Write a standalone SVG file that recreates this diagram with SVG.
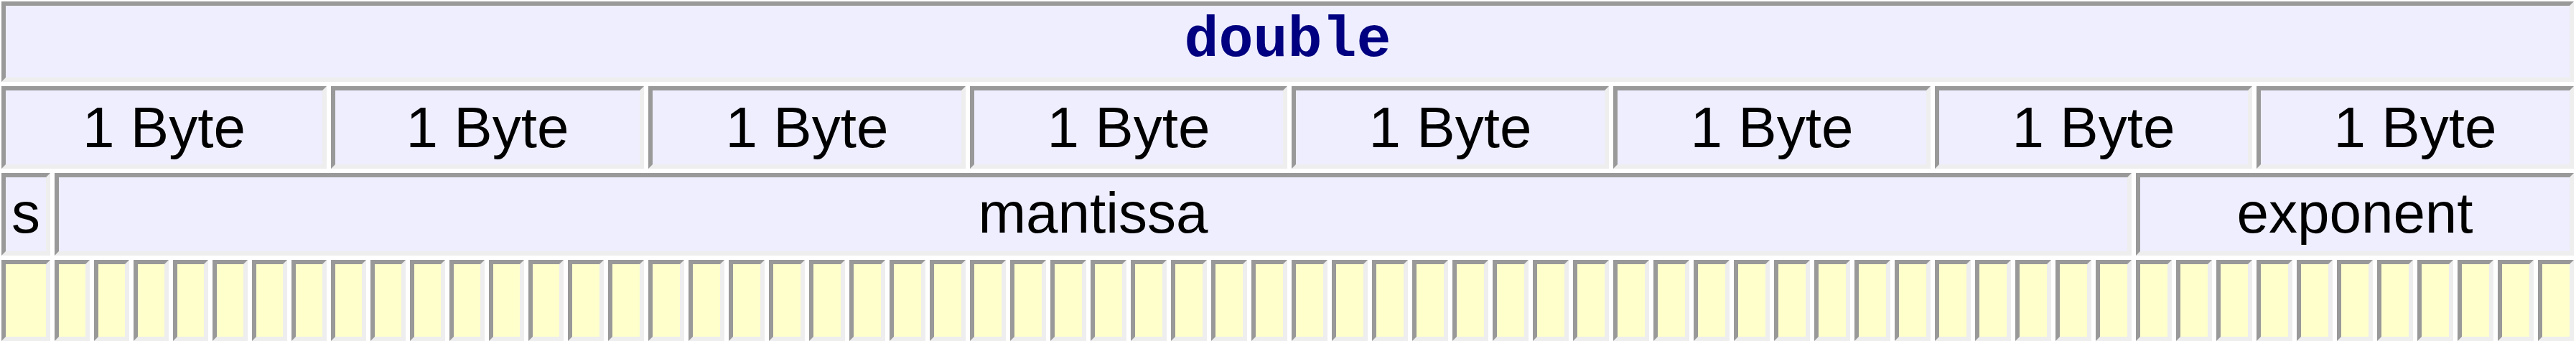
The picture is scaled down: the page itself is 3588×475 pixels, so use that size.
<svg xmlns="http://www.w3.org/2000/svg" xmlns:xlink="http://www.w3.org/1999/xlink" width="3588" height="475" viewBox="0 0 3588 475">
<style>
.lt{fill:#eeeeee}
.dk{fill:#999999}
.cell{fill:#eeeeff}
.bit{fill:#ffffcc}
.lbl{font-family:"Liberation Sans",Arial,sans-serif;font-size:80px;fill:#000000;text-anchor:middle}
.ttl{font-family:"Liberation Mono","Courier New",monospace;font-size:80px;font-weight:bold;fill:#000080;text-anchor:middle}
</style>
<defs>
<g id="c442"><rect class="lt" width="442" height="115"/><polygon class="dk" points="0,0 442,0 436,6 6,6 6,109 0,115"/><rect class="cell" x="6" y="6" width="430" height="103"/></g>
<g id="b68"><rect class="lt" width="68" height="113"/><polygon class="dk" points="0,0 68,0 62,6 6,6 6,107 0,113"/><rect class="bit" x="6" y="6" width="56" height="101"/></g>
<g id="b49"><rect class="lt" width="49" height="113"/><polygon class="dk" points="0,0 49,0 43,6 6,6 6,107 0,113"/><rect class="bit" x="6" y="6" width="37" height="101"/></g>
<g id="b50"><rect class="lt" width="50" height="113"/><polygon class="dk" points="0,0 50,0 44,6 6,6 6,107 0,113"/><rect class="bit" x="6" y="6" width="38" height="101"/></g>
</defs>
<rect width="3588" height="475" fill="#ffffff"/>
<g id="title">
<rect class="lt" x="2" y="2" width="3583" height="112"/>
<polygon class="dk" points="2,2 3585,2 3579,8 8,8 8,108 2,114"/>
<rect class="cell" x="8" y="8" width="3571" height="100"/>
<text class="ttl" x="1793.5" y="78">double</text>
</g>
<g id="byte0">
<rect class="lt" x="2" y="120" width="453" height="115"/>
<polygon class="dk" points="2,120 455,120 449,126 8,126 8,229 2,235"/>
<rect class="cell" x="8" y="126" width="441" height="103"/>
<text class="lbl" x="228.5" y="205">1 Byte</text>
</g>
<g id="byte1">
<rect class="lt" x="461" y="120" width="436" height="115"/>
<polygon class="dk" points="461,120 897,120 891,126 467,126 467,229 461,235"/>
<rect class="cell" x="467" y="126" width="424" height="103"/>
<text class="lbl" x="679" y="205">1 Byte</text>
</g>
<g id="byte2"><use href="#c442" x="903" y="120"/><text class="lbl" x="1124" y="205">1 Byte</text></g>
<g id="byte3"><use href="#c442" x="1351" y="120"/><text class="lbl" x="1572" y="205">1 Byte</text></g>
<g id="byte4"><use href="#c442" x="1799" y="120"/><text class="lbl" x="2020" y="205">1 Byte</text></g>
<g id="byte5"><use href="#c442" x="2247" y="120"/><text class="lbl" x="2468" y="205">1 Byte</text></g>
<g id="byte6"><use href="#c442" x="2695" y="120"/><text class="lbl" x="2916" y="205">1 Byte</text></g>
<g id="byte7"><use href="#c442" x="3143" y="120"/><text class="lbl" x="3364" y="205">1 Byte</text></g>
<g id="sign">
<rect class="lt" x="2" y="241" width="68" height="115"/>
<polygon class="dk" points="2,241 70,241 64,247 8,247 8,350 2,356"/>
<rect class="cell" x="8" y="247" width="56" height="103"/>
<text class="lbl" x="36" y="324">s</text>
</g>
<g id="mantissa">
<rect class="lt" x="76" y="241" width="2893" height="115"/>
<polygon class="dk" points="76,241 2969,241 2963,247 82,247 82,350 76,356"/>
<rect class="cell" x="82" y="247" width="2881" height="103"/>
<text class="lbl" x="1522.5" y="324">mantissa</text>
</g>
<g id="exponent">
<rect class="lt" x="2975" y="241" width="610" height="115"/>
<polygon class="dk" points="2975,241 3585,241 3579,247 2981,247 2981,350 2975,356"/>
<rect class="cell" x="2981" y="247" width="598" height="103"/>
<text class="lbl" x="3280" y="324">exponent</text>
</g>
<g id="bits">
<use id="bit0" href="#b68" x="2" y="362"/>
<use id="bit1" href="#b49" x="76" y="362"/>
<use id="bit2" href="#b49" x="131" y="362"/>
<use id="bit3" href="#b49" x="186" y="362"/>
<use id="bit4" href="#b49" x="241" y="362"/>
<use id="bit5" href="#b49" x="296" y="362"/>
<use id="bit6" href="#b49" x="351" y="362"/>
<use id="bit7" href="#b49" x="406" y="362"/>
<use id="bit8" href="#b49" x="461" y="362"/>
<use id="bit9" href="#b49" x="516" y="362"/>
<use id="bit10" href="#b49" x="571" y="362"/>
<use id="bit11" href="#b49" x="626" y="362"/>
<use id="bit12" href="#b49" x="681" y="362"/>
<use id="bit13" href="#b49" x="736" y="362"/>
<use id="bit14" href="#b50" x="791" y="362"/>
<use id="bit15" href="#b50" x="847" y="362"/>
<use id="bit16" href="#b50" x="903" y="362"/>
<use id="bit17" href="#b50" x="959" y="362"/>
<use id="bit18" href="#b50" x="1015" y="362"/>
<use id="bit19" href="#b50" x="1071" y="362"/>
<use id="bit20" href="#b50" x="1127" y="362"/>
<use id="bit21" href="#b50" x="1183" y="362"/>
<use id="bit22" href="#b50" x="1239" y="362"/>
<use id="bit23" href="#b50" x="1295" y="362"/>
<use id="bit24" href="#b50" x="1351" y="362"/>
<use id="bit25" href="#b50" x="1407" y="362"/>
<use id="bit26" href="#b50" x="1463" y="362"/>
<use id="bit27" href="#b50" x="1519" y="362"/>
<use id="bit28" href="#b50" x="1575" y="362"/>
<use id="bit29" href="#b50" x="1631" y="362"/>
<use id="bit30" href="#b50" x="1687" y="362"/>
<use id="bit31" href="#b50" x="1743" y="362"/>
<use id="bit32" href="#b50" x="1799" y="362"/>
<use id="bit33" href="#b50" x="1855" y="362"/>
<use id="bit34" href="#b50" x="1911" y="362"/>
<use id="bit35" href="#b50" x="1967" y="362"/>
<use id="bit36" href="#b50" x="2023" y="362"/>
<use id="bit37" href="#b50" x="2079" y="362"/>
<use id="bit38" href="#b50" x="2135" y="362"/>
<use id="bit39" href="#b50" x="2191" y="362"/>
<use id="bit40" href="#b50" x="2247" y="362"/>
<use id="bit41" href="#b50" x="2303" y="362"/>
<use id="bit42" href="#b50" x="2359" y="362"/>
<use id="bit43" href="#b50" x="2415" y="362"/>
<use id="bit44" href="#b50" x="2471" y="362"/>
<use id="bit45" href="#b50" x="2527" y="362"/>
<use id="bit46" href="#b50" x="2583" y="362"/>
<use id="bit47" href="#b50" x="2639" y="362"/>
<use id="bit48" href="#b50" x="2695" y="362"/>
<use id="bit49" href="#b50" x="2751" y="362"/>
<use id="bit50" href="#b50" x="2807" y="362"/>
<use id="bit51" href="#b50" x="2863" y="362"/>
<use id="bit52" href="#b50" x="2919" y="362"/>
<use id="bit53" href="#b50" x="2975" y="362"/>
<use id="bit54" href="#b50" x="3031" y="362"/>
<use id="bit55" href="#b50" x="3087" y="362"/>
<use id="bit56" href="#b50" x="3143" y="362"/>
<use id="bit57" href="#b50" x="3199" y="362"/>
<use id="bit58" href="#b50" x="3255" y="362"/>
<use id="bit59" href="#b50" x="3311" y="362"/>
<use id="bit60" href="#b50" x="3367" y="362"/>
<use id="bit61" href="#b50" x="3423" y="362"/>
<use id="bit62" href="#b50" x="3479" y="362"/>
<use id="bit63" href="#b50" x="3535" y="362"/>
</g>
<g id="connectors"/>
</svg>
